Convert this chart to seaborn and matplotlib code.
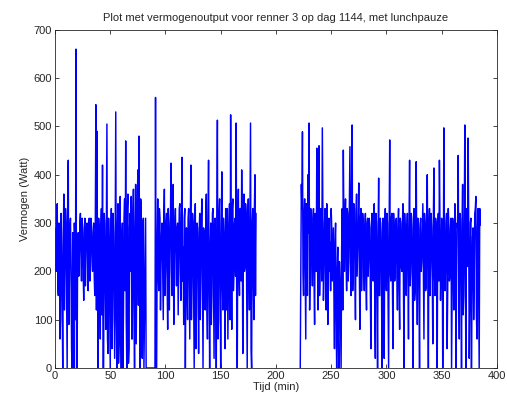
import numpy as np
import pandas as pd
import matplotlib
matplotlib.use("Agg")
import matplotlib.pyplot as plt
import seaborn as sns

# Vermogen (Watt) op hele minuten, ochtend (0-182 min) en middag (222-385 min)
ochtend_start = 0
ochtend_watt = [
    290, 200, 340, 150, 270, 100, 250, 0, 360, 210,
    300, 0, 430, 180, 310, 40, 280, 0, 240, 660,
    0, 280, 230, 320, 180, 290, 140, 310, 220, 300,
    160, 310, 230, 290, 200, 300, 150, 545, 490, 0,
    280, 60, 330, 420, 0, 300, 80, 505, 30, 260,
    0, 330, 100, 280, 20, 530, 0, 340, 50, 355,
    0, 300, 120, 350, 470, 0, 360, 40, 320, 355,
    60, 370, 0, 380, 200, 410, 480, 0, 340, 20,
    310, 100, 310, 0, 0, 0, 0, 0, 0, 0,
    0, 560, 0, 350, 160, 310, 220, 300, 100, 370,
    200, 320, 80, 300, 240, 424, 150, 380, 230, 330,
    170, 300, 220, 340, 140, 436, 250, 310, 0, 290,
    100, 330, 60, 420, 180, 300, 0, 340, 110, 290,
    30, 320, 190, 350, 0, 280, 120, 360, 60, 430,
    0, 300, 150, 330, 20, 310, 0, 513, 100, 350,
    0, 406, 120, 280, 40, 300, 330, 180, 340, 524,
    80, 350, 200, 310, 507, 0, 370, 150, 330, 410,
    30, 360, 210, 320, 0, 350, 120, 507, 0, 330,
    100, 400, 320,
]
# tussenliggende metingen (halve minuten)
ochtend_watt_half = [
    230, 310, 180, 300, 60, 320, 140, 280, 120, 330,
    150, 350, 90, 290, 200, 0, 190, 300, 100, 0,
    250, 190, 300, 230, 310, 200, 280, 170, 290, 240,
    290, 180, 310, 220, 280, 190, 300, 120, 200, 310,
    150, 290, 110, 0, 320, 170, 290, 60, 310, 120,
    280, 40, 320, 150, 300, 100, 290, 10, 330, 120,
    270, 0, 310, 160, 100, 330, 10, 290, 200, 60,
    320, 140, 290, 50, 340, 130, 230, 350, 60, 300,
    0, 220, 0, 0, 0, 0, 0, 0, 0, 0,
    0, 0, 260, 190, 330, 120, 280, 200, 310, 150,
    300, 180, 330, 120, 310, 200, 320, 90, 300, 220,
    290, 110, 330, 200, 310, 180, 90, 330, 220, 160,
    310, 180, 300, 100, 320, 150, 290, 40, 300, 200,
    280, 100, 310, 170, 290, 210, 320, 130, 300, 170,
    240, 90, 320, 180, 300, 200, 290, 60, 320, 190,
    260, 180, 310, 200, 330, 120, 60, 300, 100, 250,
    330, 160, 300, 190, 120, 310, 210, 330, 180, 290,
    300, 200, 340, 150, 310, 200, 330, 40, 300, 190,
    330, 150,
]
middag_start = 222
middag_watt = [
    0, 380, 489, 150, 350, 60, 310, 400, 507, 200,
    300, 170, 330, 90, 280, 455, 120, 460, 220, 310,
    497, 140, 300, 200, 340, 90, 310, 260, 330, 180,
    290, 40, 300, 0, 250, 0, 180, 0, 330, 451,
    200, 350, 160, 320, 230, 458, 150, 503, 210, 330,
    100, 360, 240, 383, 80, 330, 210, 300, 160, 320,
    120, 310, 230, 290, 40, 320, 180, 340, 20, 300,
    0, 393, 150, 280, 0, 310, 20, 330, 160, 300,
    0, 472, 180, 320, 40, 290, 200, 310, 120, 330,
    80, 300, 200, 340, 0, 280, 150, 320, 60, 430,
    200, 290, 0, 330, 160, 427, 90, 300, 0, 310,
    220, 340, 60, 300, 170, 400, 0, 330, 210, 290,
    50, 414, 150, 300, 0, 320, 430, 140, 310, 0,
    497, 160, 300, 40, 330, 180, 290, 0, 310, 120,
    340, 0, 300, 440, 60, 310, 0, 380, 150, 503,
    0, 320, 476, 20, 300, 0, 270, 100, 320, 355,
    60, 330, 0, 296,
]
middag_watt_half = [
    200, 330, 200, 320, 190, 340, 150, 280, 120, 330,
    220, 310, 180, 320, 200, 300, 250, 150, 330, 180,
    300, 190, 330, 120, 300, 180, 200, 160, 290, 230,
    150, 260, 100, 200, 60, 220, 80, 250, 120, 300,
    310, 220, 330, 180, 350, 220, 370, 160, 340, 200,
    320, 190, 300, 210, 310, 160, 320, 220, 290, 180,
    300, 190, 310, 150, 290, 230, 300, 110, 320, 180,
    280, 150, 310, 200, 300, 120, 280, 200, 320, 150,
    290, 200, 310, 160, 320, 180, 300, 200, 290, 160,
    310, 210, 300, 150, 320, 180, 290, 210, 300, 170,
    320, 200, 310, 140, 300, 220, 310, 180, 290, 200,
    280, 190, 320, 160, 300, 210, 290, 150, 320, 200,
    300, 200, 310, 170, 290, 180, 300, 200, 280, 150,
    290, 210, 320, 160, 300, 190, 310, 150, 290, 200,
    310, 170, 290, 180, 320, 200, 300, 110, 300, 190,
    330, 210, 300, 120, 310, 160, 290, 180, 330, 110,
    290, 150, 330,
]


def deel(start, heel, half):
    t = np.concatenate([np.arange(len(heel)), np.arange(len(half)) + 0.5]) + start
    df = pd.DataFrame({"tijd": t, "watt": list(heel) + list(half)})
    return df.sort_values("tijd")


ochtend = deel(ochtend_start, ochtend_watt, ochtend_watt_half)
middag = deel(middag_start, middag_watt, middag_watt_half)

sns.set_theme(style="ticks")
plt.rcParams["font.family"] = ["Liberation Sans", "DejaVu Sans"]
plt.rcParams["xtick.direction"] = "in"
plt.rcParams["ytick.direction"] = "in"

fig = plt.figure(figsize=(5.07, 4.05), dpi=100)
ax = fig.add_axes([0.1085, 0.0914, 0.8715, 0.835])

for df in (ochtend, middag):
    sns.lineplot(data=df, x="tijd", y="watt", color="#0000ff", linewidth=1.05,
                 estimator=None, sort=False, ax=ax)

ax.set_xlim(0, 400)
ax.set_ylim(0, 700)
ax.set_xticks(range(0, 401, 50))
ax.set_yticks(range(0, 701, 100))
ax.tick_params(labelsize=8, length=3, width=0.6, top=True, right=True, pad=2)
for s in ax.spines.values():
    s.set_linewidth(0.6)
    s.set_zorder(5)
ax.set_xlabel("Tijd (min)", fontsize=8, labelpad=1)
ax.set_ylabel("Vermogen (Watt)", fontsize=8, labelpad=3)
ax.set_title("Plot met vermogenoutput voor renner 3 op dag 1144, met lunchpauze",
             fontsize=8, pad=6)

fig.savefig("out.png", dpi=100)
